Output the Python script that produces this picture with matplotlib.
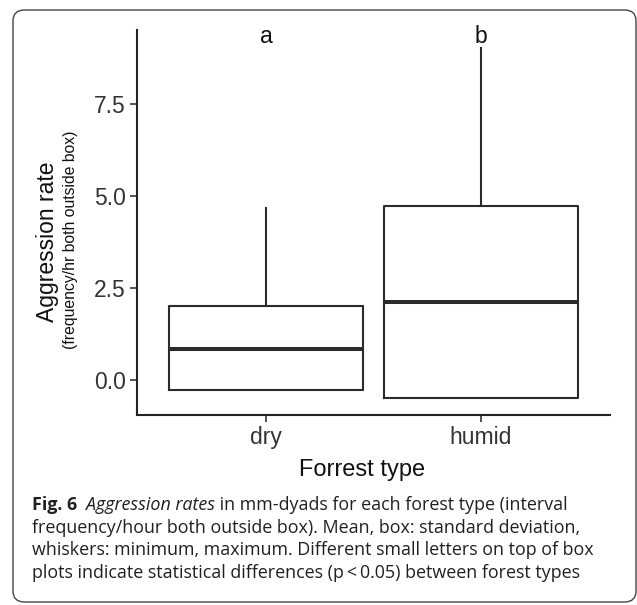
import matplotlib
matplotlib.use("Agg")
import matplotlib.pyplot as plt
from matplotlib.patches import FancyBboxPatch

# values
forest_types = ["dry", "humid"]
means = [0.84, 2.12]
box_low = [-0.27, -0.48]
box_high = [2.01, 4.73]
whisk_min = [-0.27, -0.48]
whisk_max = [4.67, 9.02]
letters = ["a", "b"]
yticks = [0.0, 2.5, 5.0, 7.5]

caption_lines = [
    [("Fig. 6", "bold", "normal"), ("  ", "normal", "normal"),
     ("Aggression rates", "normal", "italic"),
     (" in mm-dyads for each forest type (interval", "normal", "normal")],
    [("frequency/hour both outside box). Mean, box: standard deviation,", "normal", "normal")],
    [("whiskers: minimum, maximum. Different small letters on top of box", "normal", "normal")],
    [("plots indicate statistical differences (p\u2009<\u20090.05) between forest types", "normal", "normal")],
]

W, H = 637, 605
fig = plt.figure(figsize=(W / 100, H / 100), dpi=100)

# rounded frame round plot + caption
frame = FancyBboxPatch((13 / W, 1 - 602 / H), 623 / W, 592 / H,
                       boxstyle="round,pad=0,rounding_size=0.018",
                       transform=fig.transFigure, fill=False,
                       edgecolor="#444444", linewidth=1.0)
fig.patches.append(frame)

ax = fig.add_axes([137 / W, 1 - 415 / H, 473 / W, 385 / H])
stats = []
for i in range(len(forest_types)):
    stats.append(dict(med=means[i], q1=box_low[i], q3=box_high[i],
                      whislo=whisk_min[i], whishi=whisk_max[i], fliers=[]))
line_col = "#2b2b2b"
ax.bxp(stats, positions=[1, 2], widths=0.9, showcaps=False, showfliers=False,
       boxprops=dict(color=line_col, linewidth=1.5),
       whiskerprops=dict(color=line_col, linewidth=1.5),
       medianprops=dict(color=line_col, linewidth=2.9))

for i, lab in enumerate(letters):
    ax.text(i + 1, 9.32, lab, ha="center", va="center",
            fontsize=16.5, family="Liberation Sans", color="#111111")

ax.set_xlim(0.4, 2.6)
ax.set_ylim(-0.951, 9.51)
ax.set_yticks(yticks)
ax.set_yticklabels([f"{v:.1f}" for v in yticks])
ax.set_xticks([1, 2])
ax.set_xticklabels(forest_types)
for s in ["top", "right"]:
    ax.spines[s].set_visible(False)
for s in ["left", "bottom"]:
    ax.spines[s].set_linewidth(1.5)
    ax.spines[s].set_color("#222222")
ax.tick_params(length=5, width=1.2, color="#333333", labelsize=16.5,
               labelcolor="#333333", pad=3)
for t in ax.get_xticklabels() + ax.get_yticklabels():
    t.set_family("Liberation Sans")

fig.text(48 / W, 1 - 242 / H, "Aggression rate", rotation=90, ha="center",
         va="center", fontsize=16.5, family="Liberation Sans", color="#111111")
fig.text(70 / W, 1 - 240 / H, "(frequency/hr both outside box)", rotation=90,
         ha="center", va="center", fontsize=11.3, family="Liberation Sans",
         color="#111111")
fig.text(362 / W, 1 - 470 / H, "Forrest type", ha="center", va="center",
         fontsize=17, family="Liberation Sans", color="#111111")

# caption, pieces laid end to end
baselines = [510, 533, 555, 578]
renderer = fig.canvas.get_renderer()
for line, yb in zip(caption_lines, baselines):
    x = 31.5
    for txt, weight, style in line:
        t = fig.text(x / W, 1 - yb / H, txt, ha="left", va="baseline",
                     fontsize=12.9, family="Open Sans", fontweight=weight,
                     fontstyle=style, color="#231f20")
        bb = t.get_window_extent(renderer=renderer)
        x += bb.width

fig.savefig("out.png", dpi=100)
